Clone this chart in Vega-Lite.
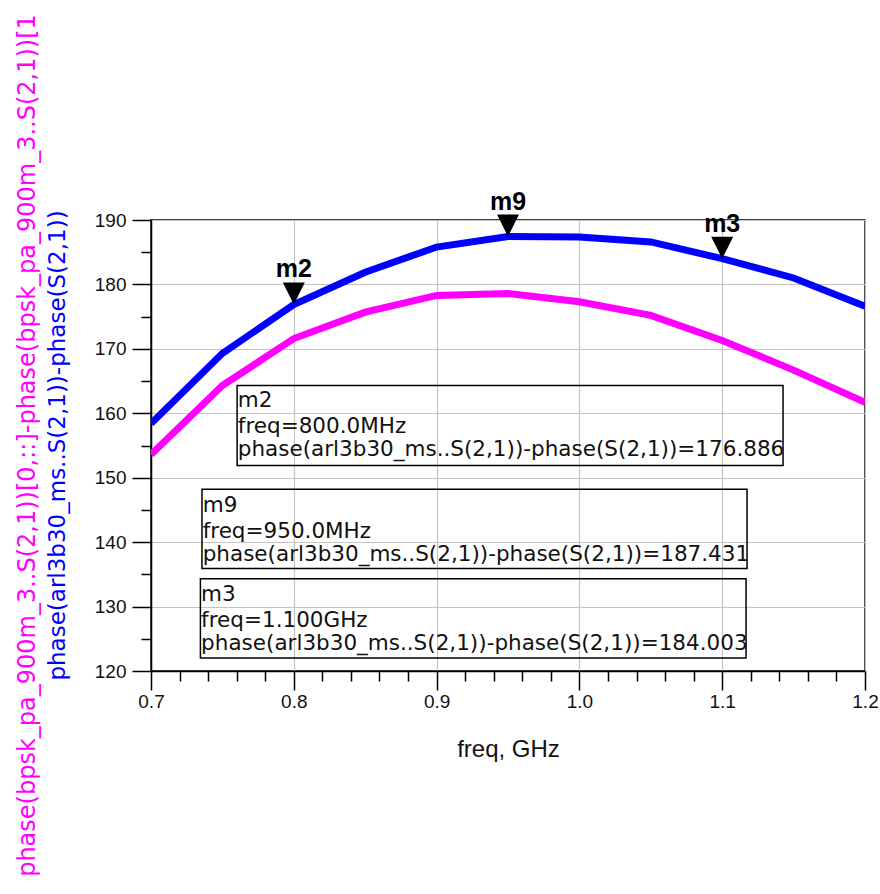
{
  "$schema": "https://vega.github.io/schema/vega-lite/v6.json",
  "width": 714,
  "height": 451,
  "autosize": "none",
  "padding": {"left": 151, "top": 220, "right": 15, "bottom": 223},
  "background": "white",
  "config": {"view": {"stroke": "black", "strokeWidth": 1.5}, "font": "Liberation Sans"},
  "datasets": {
    "curves": [
      {"freq": 0.7, "phase": 158.4, "series": "arl3b30"},
      {"freq": 0.75, "phase": 169.3, "series": "arl3b30"},
      {"freq": 0.8, "phase": 176.886, "series": "arl3b30"},
      {"freq": 0.85, "phase": 181.9, "series": "arl3b30"},
      {"freq": 0.9, "phase": 185.8, "series": "arl3b30"},
      {"freq": 0.95, "phase": 187.431, "series": "arl3b30"},
      {"freq": 1.0, "phase": 187.35, "series": "arl3b30"},
      {"freq": 1.05, "phase": 186.6, "series": "arl3b30"},
      {"freq": 1.1, "phase": 184.003, "series": "arl3b30"},
      {"freq": 1.15, "phase": 181.0, "series": "arl3b30"},
      {"freq": 1.2, "phase": 176.6, "series": "arl3b30"},
      {"freq": 0.7, "phase": 153.6, "series": "bpsk"},
      {"freq": 0.75, "phase": 164.3, "series": "bpsk"},
      {"freq": 0.8, "phase": 171.6, "series": "bpsk"},
      {"freq": 0.85, "phase": 175.7, "series": "bpsk"},
      {"freq": 0.9, "phase": 178.3, "series": "bpsk"},
      {"freq": 0.95, "phase": 178.6, "series": "bpsk"},
      {"freq": 1.0, "phase": 177.3, "series": "bpsk"},
      {"freq": 1.05, "phase": 175.2, "series": "bpsk"},
      {"freq": 1.1, "phase": 171.3, "series": "bpsk"},
      {"freq": 1.15, "phase": 166.7, "series": "bpsk"},
      {"freq": 1.2, "phase": 161.7, "series": "bpsk"}
    ],
    "markers": [
      {"marker": "m2", "freq": 0.8, "phase": 176.886},
      {"marker": "m9", "freq": 0.95, "phase": 187.431},
      {"marker": "m3", "freq": 1.1, "phase": 184.003}
    ],
    "boxes": [
      {"marker": "m2", "x1": 0.7603, "x2": 1.1426, "ytop": 164.3, "ybot": 151.9},
      {"marker": "m9", "x1": 0.7357, "x2": 1.1174, "ytop": 148.2, "ybot": 135.9},
      {"marker": "m3", "x1": 0.7346, "x2": 1.1167, "ytop": 134.3, "ybot": 122.0}
    ],
    "boxtext": [
      {"x": 0.7608, "y": 160.9, "label": "m2"},
      {"x": 0.7608, "y": 156.9, "label": "freq=800.0MHz"},
      {"x": 0.7608, "y": 153.3, "label": "phase(arl3b30_ms..S(2,1))-phase(S(2,1))=176.886"},
      {"x": 0.7362, "y": 144.7, "label": "m9"},
      {"x": 0.7362, "y": 140.7, "label": "freq=950.0MHz"},
      {"x": 0.7362, "y": 137.1, "label": "phase(arl3b30_ms..S(2,1))-phase(S(2,1))=187.431"},
      {"x": 0.7351, "y": 130.9, "label": "m3"},
      {"x": 0.7351, "y": 126.9, "label": "freq=1.100GHz"},
      {"x": 0.7351, "y": 123.3, "label": "phase(arl3b30_ms..S(2,1))-phase(S(2,1))=184.003"}
    ]
  },
  "layer": [
    {
      "data": {"name": "curves"},
      "mark": {"type": "line", "strokeWidth": 7, "clip": true},
      "encoding": {
        "x": {
          "field": "freq", "type": "quantitative",
          "scale": {"domain": [0.7, 1.2], "nice": false, "zero": false},
          "axis": {
            "orient": "bottom",
            "values": [0.7, 0.8, 0.9, 1.0, 1.1, 1.2], "format": ".1f",
            "ticks": true, "tickSize": 19, "tickWidth": 1.5, "tickColor": "black",
            "domainColor": "black", "domainWidth": 1.5,
            "grid": true, "gridColor": "#c4c4c4", "gridWidth": 1.2,
            "labelFont": "Liberation Sans", "labelFontSize": 19, "labelColor": "#111", "labelPadding": 2,
            "labelFlush": false, "labelOverlap": false,
            "title": "freq, GHz", "titleFont": "Liberation Sans", "titleFontSize": 24, "titleFontWeight": "normal",
            "titleColor": "#111", "titleY": 85, "titleBaseline": "alphabetic"
          }
        },
        "y": {
          "field": "phase", "type": "quantitative",
          "scale": {"domain": [120, 190], "nice": false, "zero": false},
          "axis": {
            "orient": "left",
            "values": [120, 130, 140, 150, 160, 170, 180, 190],
            "tickSize": 19, "tickWidth": 1.5, "tickColor": "black",
            "domainColor": "black", "domainWidth": 1.5,
            "grid": true, "gridColor": "#c4c4c4", "gridWidth": 1.2,
            "labelFont": "Liberation Sans", "labelFontSize": 19, "labelColor": "#111", "labelPadding": 6,
            "labelFlush": false, "labelOverlap": false,
            "title": "phase(arl3b30_ms..S(2,1))-phase(S(2,1))",
            "titleFont": "DejaVu Sans", "titleFontSize": 23, "titleFontWeight": "normal",
            "titleColor": "#0000ff", "titleAngle": -90, "titleX": -94, "titleY": 225,
            "titleAlign": "center", "titleBaseline": "middle", "titleLimit": 3000
          }
        },
        "color": {
          "field": "series", "type": "nominal",
          "scale": {"domain": ["arl3b30", "bpsk"], "range": ["#0000ff", "#ff00ff"]},
          "legend": null
        }
      }
    },
    {
      "data": {"name": "markers"},
      "mark": {"type": "point", "opacity": 0},
      "encoding": {
        "x": {
          "field": "freq", "type": "quantitative",
          "axis": {
            "orient": "bottom",
            "values": [0.72, 0.74, 0.76, 0.78, 0.82, 0.84, 0.86, 0.88, 0.92, 0.94, 0.96, 0.98, 1.02, 1.04, 1.06, 1.08, 1.12, 1.14, 1.16, 1.18],
            "ticks": true, "tickSize": 10, "tickWidth": 1.5, "tickColor": "black",
            "labels": false, "grid": false, "domain": false, "title": null
          }
        },
        "y": {
          "field": "phase", "type": "quantitative",
          "axis": {
            "orient": "left",
            "values": [125, 135, 145, 155, 165, 175, 185],
            "tickSize": 10, "tickWidth": 1.5, "tickColor": "black",
            "labels": false, "grid": false, "domain": false,
            "title": "phase(bpsk_pa_900m_3..S(2,1))[0,::]-phase(bpsk_pa_900m_3..S(2,1))[1",
            "titleFont": "DejaVu Sans", "titleFontSize": 24, "titleFontWeight": "normal",
            "titleColor": "#ff00ff", "titleAngle": -90, "titleX": -124, "titleY": 225,
            "titleAlign": "center", "titleBaseline": "middle", "titleLimit": 3000
          }
        }
      }
    },
    {
      "data": {"name": "boxes"},
      "mark": {"type": "rect", "fillOpacity": 0, "stroke": "black", "strokeWidth": 1.5},
      "encoding": {
        "x": {"field": "x1", "type": "quantitative", "axis": null},
        "x2": {"field": "x2"},
        "y": {"field": "ytop", "type": "quantitative", "axis": null},
        "y2": {"field": "ybot"}
      }
    },
    {
      "data": {"name": "boxtext"},
      "mark": {"type": "text", "align": "left", "baseline": "alphabetic", "font": "DejaVu Sans", "fontSize": 21.5, "color": "#111"},
      "encoding": {
        "x": {"field": "x", "type": "quantitative", "axis": null},
        "y": {"field": "y", "type": "quantitative", "axis": null},
        "text": {"field": "label"}
      }
    },
    {
      "data": {"name": "markers"},
      "mark": {"type": "point", "shape": "M-1,-2L1,-2L0,0Z", "size": 484, "filled": true, "color": "black", "opacity": 1},
      "encoding": {
        "x": {"field": "freq", "type": "quantitative", "axis": null},
        "y": {"field": "phase", "type": "quantitative", "axis": null}
      }
    },
    {
      "data": {"name": "markers"},
      "mark": {"type": "text", "align": "center", "baseline": "alphabetic", "dy": -27, "font": "Liberation Sans", "fontSize": 25, "fontWeight": "bold", "color": "black"},
      "encoding": {
        "x": {"field": "freq", "type": "quantitative", "axis": null},
        "y": {"field": "phase", "type": "quantitative", "axis": null},
        "text": {"field": "marker"}
      }
    }
  ],
  "resolve": {"axis": {"x": "independent", "y": "independent"}}
}
